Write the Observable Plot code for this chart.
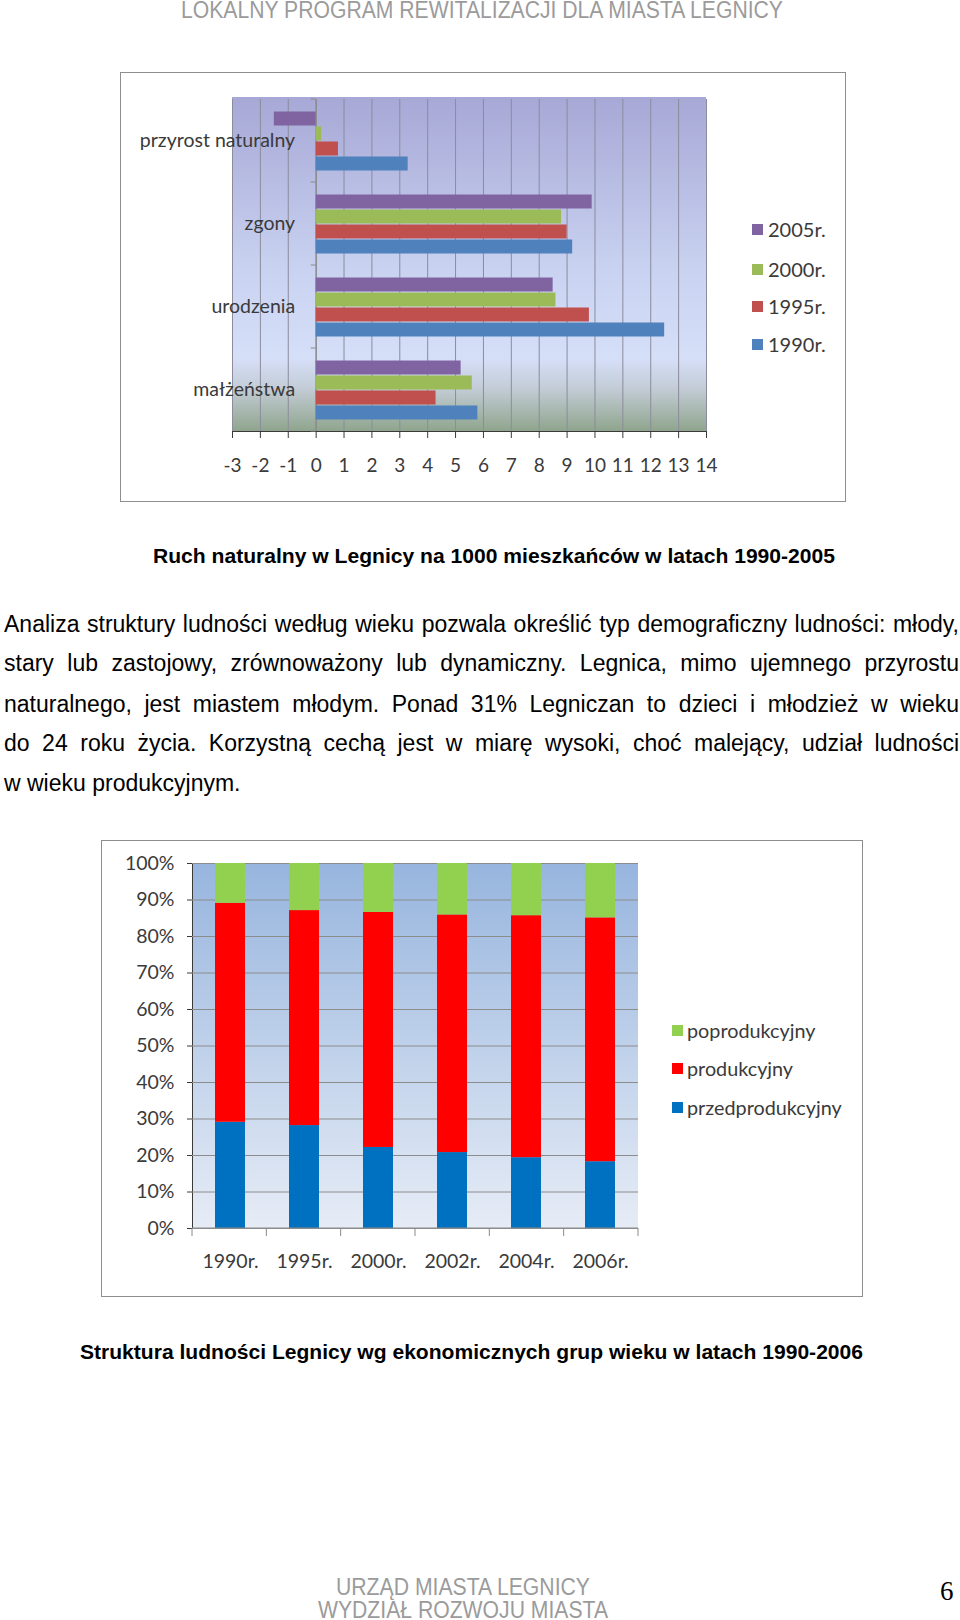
<!DOCTYPE html>
<html><head><meta charset="utf-8">
<script src="https://cdn.jsdelivr.net/npm/d3@7"></script>
<script src="https://cdn.jsdelivr.net/npm/@observablehq/plot@0.6"></script>
<style>
html,body{margin:0;padding:0;background:#fff;}
body{width:960px;height:1620px;position:relative;overflow:hidden;font-family:"Liberation Sans",Arial,sans-serif;}
.abs{position:absolute;}
.fit{position:absolute;white-space:nowrap;display:inline-block;transform-origin:left center;}
.grey{color:#9b9b9b;font-size:23px;}
.cap{font-weight:bold;font-size:21px;color:#000;}
.line{position:absolute;left:4px;width:955px;font-size:23px;line-height:30px;color:#000;white-space:nowrap;text-align:justify;text-align-last:justify;}
.box{position:absolute;outline:1.5px solid #8e8e8e;}
.leg{position:absolute;font-family:Lato,sans-serif;color:#3a3a3a;white-space:nowrap;line-height:24px;}
.sw{position:absolute;}
</style></head><body>
<div id="header" class="fit grey" style="top:-2px;line-height:24px;">LOKALNY PROGRAM REWITALIZACJI DLA MIASTA LEGNICY</div>
<div id="c1" class="box" style="left:121px;top:73px;width:724px;height:428px;"></div>
<div id="cap1" class="fit cap" style="top:544px;line-height:24px;">Ruch naturalny w Legnicy na 1000 mieszkańców w latach 1990-2005</div>
<div id="para"></div>
<div id="c2" class="box" style="left:102px;top:841px;width:760px;height:455px;"></div>
<div id="cap2" class="fit cap" style="top:1340px;line-height:24px;">Struktura ludności Legnicy wg ekonomicznych grup wieku w latach 1990-2006</div>
<div id="foot1" class="fit grey" style="top:1575px;line-height:24px;">URZĄD MIASTA LEGNICY</div>
<div id="foot2" class="fit grey" style="top:1598px;line-height:24px;">WYDZIAŁ ROZWOJU MIASTA</div>
<div class="abs" style="left:940px;top:1575px;font-family:'Liberation Serif',serif;font-size:27px;line-height:32px;">6</div>
<script>
// ---------- Chart 1 data: Ruch naturalny (per 1000 inhabitants) ----------
const categories1 = ["przyrost naturalny", "zgony", "urodzenia", "małżeństwa"];
const series1 = ["2005r.", "2000r.", "1995r.", "1990r."];
const colors1 = ["#8064a2", "#9bbb59", "#c0504d", "#4f81bd"];
const v2005 = [-1.5, 9.9, 8.5, 5.2];
const v2000 = [0.2, 8.8, 8.6, 5.6];
const v1995 = [0.8, 9.0, 9.8, 4.3];
const v1990 = [3.3, 9.2, 12.5, 5.8];
const xTicks1 = [-3, -2, -1, 0, 1, 2, 3, 4, 5, 6, 7, 8, 9, 10, 11, 12, 13, 14];

// ---------- Chart 2 data: Struktura ludności (%) ----------
const years2 = ["1990r.", "1995r.", "2000r.", "2002r.", "2004r.", "2006r."];
const groups2 = ["przedprodukcyjny", "produkcyjny", "poprodukcyjny"];
const colors2 = ["#0070c0", "#ff0000", "#92d050"];
const przedprodukcyjny = [29.1, 28.2, 22.2, 20.8, 19.4, 18.3];
const produkcyjny = [60.0, 58.9, 64.4, 65.1, 66.3, 66.8];
const poprodukcyjny = [10.9, 12.9, 13.4, 14.1, 14.3, 14.9];
const yTicks2 = [0, 10, 20, 30, 40, 50, 60, 70, 80, 90, 100];

// ---------- Text ----------
const paraLines = [
  "Analiza struktury ludności według wieku pozwala określić typ demograficzny ludności: młody,",
  "stary lub zastojowy, zrównoważony lub dynamiczny. Legnica, mimo ujemnego przyrostu",
  "naturalnego, jest miastem młodym. Ponad 31% Legniczan to dzieci i młodzież w wieku",
  "do 24 roku życia. Korzystną cechą jest w miarę wysoki, choć malejący, udział ludności",
  "w wieku produkcyjnym."
];
const paraTops = [609, 648, 689, 728, 768];

const para = document.getElementById("para");
paraLines.forEach((t, i) => {
  const d = document.createElement("div");
  d.className = "line";
  d.style.top = paraTops[i] + "px";
  if (i === paraLines.length - 1) { d.style.textAlign = "left"; d.style.textAlignLast = "left"; }
  d.textContent = t;
  para.appendChild(d);
});

function addGradient(svg, id, stops, x0, x1, y0, y1) {
  const s = d3.select(svg);
  const defs = s.insert("defs", ":first-child");
  const g = defs.append("linearGradient").attr("id", id)
    .attr("x1", 0).attr("y1", 0).attr("x2", 0).attr("y2", 1);
  stops.forEach(([o, c]) => g.append("stop").attr("offset", o).attr("stop-color", c));
  s.insert("rect", "defs + *")
    .attr("x", Math.min(x0, x1)).attr("y", Math.min(y0, y1))
    .attr("width", Math.abs(x1 - x0)).attr("height", Math.abs(y1 - y0))
    .attr("fill", `url(#${id})`);
}

// ---------- Chart 1 ----------
const vals1 = [v2005, v2000, v1995, v1990];
const data1 = categories1.flatMap((c, i) => series1.map((s, j) => ({cat: c, year: s, value: vals1[j][i]})));

const chart1 = Plot.plot({
  width: 724, height: 428,
  marginLeft: 111, marginRight: 139, marginTop: 24, marginBottom: 69,
  style: {fontFamily: "Lato, sans-serif", fontSize: "19px", color: "#3a3a3a", background: "transparent", overflow: "visible"},
  x: {domain: [-3, 14], ticks: xTicks1, tickFormat: d => String(d), tickSize: 7, tickPadding: 20, label: null, line: true},
  y: {domain: series1, paddingInner: 0, paddingOuter: 0.75, axis: null},
  fy: {domain: categories1, padding: 0, axis: null, label: null},
  color: {domain: series1, range: colors1},
  marks: [
    Plot.ruleX(xTicks1, {stroke: "#8b8c9c", strokeWidth: 1}),
    Plot.ruleX([0], {stroke: "#8a8a8a", strokeWidth: 1.2}),
    Plot.barX(data1, {x: "value", y: "year", fy: "cat", fill: "year", insetTop: 0.5, insetBottom: 0.5}),
    Plot.text(categories1, {fy: d => d, x: () => 0, dx: -21, text: d => d, textAnchor: "end", fontSize: 19.5, fill: "#3a3a3a"})
  ]
});
document.getElementById("c1").appendChild(chart1);
{
  const xs = chart1.scale("x");
  const fy = chart1.scale("fy");
  const [xa, xb] = xs.range;
  let ya = 24, yb = 428 - 69;
  if (fy && fy.range) { ya = Math.min(...fy.range); yb = Math.max(...fy.range); }
  addGradient(chart1, "grad1", [[0, "#a7a8d6"], [0.5, "#c8d1f0"], [0.78, "#d6dff8"], [0.87, "#c3ccd6"], [1, "#8ea48b"]], xa, xb, ya, yb);
  const x0 = xs.apply(0);
  const bounds = [];
  if (fy && fy.apply) {
    categories1.forEach(c => bounds.push(fy.apply(c)));
    bounds.push(fy.apply(categories1[categories1.length - 1]) + fy.bandwidth);
  }
  const s = d3.select(chart1);
  bounds.forEach(b => s.append("line").attr("x1", x0 - 5).attr("x2", x0).attr("y1", b).attr("y2", b).attr("stroke", "#8a8a8a"));
}

// legend 1
{
  const c1 = document.getElementById("c1");
  const ys = [156, 196, 233, 271];
  series1.forEach((s, i) => {
    const sw = document.createElement("div");
    sw.className = "sw";
    sw.style.cssText = `left:631px;top:${ys[i] - 5}px;width:11px;height:11px;background:${colors1[i]};`;
    c1.appendChild(sw);
    const t = document.createElement("div");
    t.className = "leg";
    t.style.cssText = `left:647px;top:${ys[i] - 12}px;font-size:20px;`;
    t.textContent = s;
    c1.appendChild(t);
  });
}

// ---------- Chart 2 ----------
const vals2 = [przedprodukcyjny, produkcyjny, poprodukcyjny];
const data2 = groups2.flatMap((g, j) => years2.map((y, i) => ({year: y, group: g, value: vals2[j][i]})));

const chart2 = Plot.plot({
  width: 760, height: 455,
  marginLeft: 90, marginRight: 224, marginTop: 22, marginBottom: 68,
  style: {fontFamily: "Lato, sans-serif", fontSize: "19.5px", color: "#3a3a3a", background: "transparent", overflow: "visible"},
  x: {domain: years2, paddingInner: 0.6, paddingOuter: 0.3, tickSize: 0, tickPadding: 26, label: null},
  y: {domain: [0, 100], ticks: yTicks2, tickFormat: d => d + "%", tickSize: 5, tickPadding: 13, label: null, line: true},
  color: {domain: groups2, range: colors2},
  marks: [
    Plot.ruleY(yTicks2, {stroke: "#8c8c8c", strokeWidth: 1}),
    Plot.barY(data2, {x: "year", y: "value", fill: "group"})
  ]
});
document.getElementById("c2").appendChild(chart2);
{
  const xs = chart2.scale("x");
  const ys = chart2.scale("y");
  const [xa, xb] = xs.range;
  const y0 = ys.apply(0), y1 = ys.apply(100);
  addGradient(chart2, "grad2", [[0, "#97b5de"], [1, "#e6ecf6"]], xa, xb, y1, y0);
  const s = d3.select(chart2);
  const n = years2.length;
  for (let i = 0; i <= n; i++) {
    const bx = xa + i * (xb - xa) / n;
    s.append("line").attr("x1", bx).attr("x2", bx).attr("y1", y0).attr("y2", y0 + 8).attr("stroke", "#8a8a8a");
  }
  s.append("line").attr("x1", xa).attr("x2", xb).attr("y1", y0).attr("y2", y0).attr("stroke", "#8a8a8a");
}
// legend 2
{
  const c2 = document.getElementById("c2");
  const order = [2, 1, 0];
  const ys = [189, 227, 266];
  order.forEach((k, i) => {
    const sw = document.createElement("div");
    sw.className = "sw";
    sw.style.cssText = `left:570px;top:${ys[i] - 5}px;width:11px;height:11px;background:${colors2[k]};`;
    c2.appendChild(sw);
    const t = document.createElement("div");
    t.className = "leg";
    t.style.cssText = `left:585px;top:${ys[i] - 12}px;font-size:19.8px;`;
    t.textContent = groups2[k];
    c2.appendChild(t);
  });
}

// ---------- fit headline texts to their widths ----------
function fit(id, left, width) {
  const el = document.getElementById(id);
  el.style.left = left + "px";
  el.style.transform = "none";
  const w = el.getBoundingClientRect().width;
  el.style.transform = `scaleX(${width / w})`;
}
function fitAll() {
  fit("header", 181, 602);
  fit("cap1", 153, 682);
  fit("cap2", 80, 783);
  fit("foot1", 336, 254);
  fit("foot2", 318, 290);
}
fitAll();
if (document.fonts && document.fonts.ready) document.fonts.ready.then(fitAll);
</script>
</body></html>
